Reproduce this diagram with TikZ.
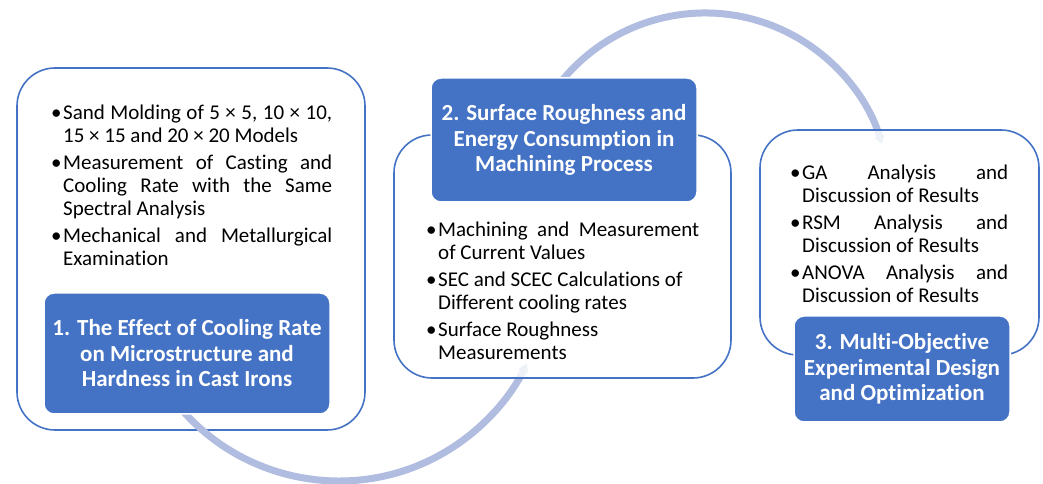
\documentclass[tikz,border=0pt]{standalone}
\usepackage{fontspec}
\setmainfont{Carlito}[Ligatures=NoCommon]
\usetikzlibrary{arrows.meta}

\definecolor{accentblue}{HTML}{4472C4}
\definecolor{arcblue}{RGB}{176,188,224}

% bullet item with hanging indent
\newcommand{\bitem}{\par\setlength{\parskip}{4pt}\hangindent=12pt\hangafter=1\noindent\makebox[12pt][l]{\strut•}}

\begin{document}
\begin{tikzpicture}[x=1pt, y=1pt,
        panel/.style={draw=accentblue, line width=1.6pt, rounded corners=38pt, fill=white, inner sep=0},
        titlebox/.style={rounded corners=10pt, fill=accentblue, draw=white, line width=1.5pt, text=white,
            font=\fontsize{23}{25.5}\selectfont\bfseries, align=center, inner sep=0},
        bodytext/.style={anchor=north west, inner sep=0, align=justify,
            font=\fontsize{21}{23}\selectfont},
        cyclearc/.style={arcblue, line width=7pt, -{Triangle[length=8pt, width=10pt]}}
    ]
    \useasboundingbox (0,0) rectangle (1043,484);
    % First panel
    \node[panel, minimum width=348, minimum height=362] (p1) at (191,235) {};
    % Cycle arcs
    \coordinate (c1) at (339,212);
    \coordinate (c2) at (705,286);
    \draw[cyclearc] ([shift={(215:209pt)}]c1) arc[start angle=215, end angle=334, radius=209pt];
    \draw[cyclearc] ([shift={(150:185pt)}]c2) arc[start angle=150, end angle=17, radius=185pt];
    % Other panels
    \node[panel, fill opacity=0.8, minimum width=337, minimum height=243] (p2) at (562.5,227.5) {};
    \node[panel, fill opacity=0.8, minimum width=279, minimum height=225] (p3) at (899.5,241.5) {};
    % Titles
    \node[titlebox, minimum width=286, minimum height=121] (h1) at (187,130.5)
        {1. The Effect of Cooling Rate\\on Microstructure and\\Hardness in Cast Irons};
    \node[titlebox, minimum width=266, minimum height=124] (h2) at (564,344)
        {2. Surface Roughness and\\Energy Consumption in\\Machining Process};
    \node[titlebox, minimum width=216, minimum height=106] (h3) at (902,115)
        {3. Multi-Objective\\Experimental Design\\and Optimization};
    % Bullet lists
    \node[bodytext, text width=281] (t1) at (51,392) {%
        \bitem Sand Molding of 5 × 5, 10 × 10,\linebreak 15 × 15 and 20 × 20 Models
        \bitem Measurement of Casting and\linebreak Cooling Rate with the Same\linebreak Spectral Analysis
        \bitem Mechanical and Metallurgical\linebreak Examination\par};
    \node[bodytext, text width=273] (t2) at (426,275) {%
        \bitem Machining and Measurement\linebreak of Current Values
        \bitem SEC and SCEC Calculations of\\ Different cooling rates
        \bitem Surface Roughness\\ Measurements\par};
    \node[bodytext, text width=218] (t3) at (790,332) {%
        \bitem GA Analysis and\linebreak Discussion of Results
        \bitem RSM Analysis and\linebreak Discussion of Results
        \bitem ANOVA Analysis and\linebreak Discussion of Results\par};
\end{tikzpicture}
\end{document}
